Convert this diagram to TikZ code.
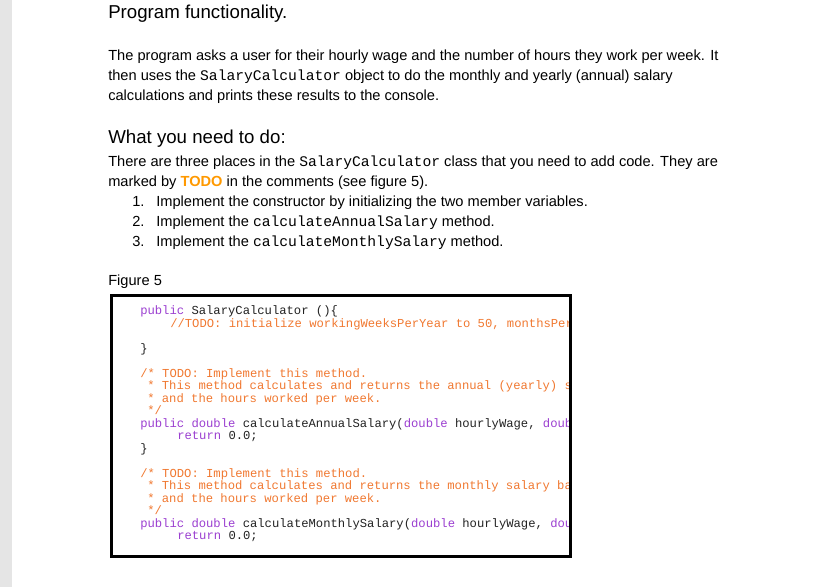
\documentclass[tikz,border=0pt]{standalone}
\usepackage{fontspec}
\setmainfont{Liberation Sans}
\setmonofont{Liberation Mono}
\definecolor{todoorange}{HTML}{FF9900}
\definecolor{commentorange}{HTML}{F07830}
\definecolor{keypurple}{HTML}{9B3FD0}
\definecolor{codegrey}{HTML}{222222}
\newcommand{\kw}[1]{\textcolor{keypurple}{#1}}
\newcommand{\inl}[1]{{\ttfamily\fontsize{11}{13}\selectfont #1}}

\begin{document}
\begin{tikzpicture}[x=.75pt,y=-.75pt,
    heading/.style={anchor=base west,inner sep=0,font=\fontsize{14}{16}\selectfont},
    body/.style={anchor=base west,inner sep=0,font=\fontsize{10.97}{13}\selectfont},
    code/.style={anchor=base west,inner sep=0,codegrey,font=\ttfamily\fontsize{9.15}{11}\selectfont},
    comment/.style={code,commentorange}]

    \useasboundingbox (0,0) rectangle (820,587);
    \fill[black!10] (0,0) rectangle (12,587);

    \node[heading] (title) at (108,18) {Program functionality.};
    \node[body] (p1) at (108,60) {The program asks a user for their hourly wage and the number of hours they work per week. It};
    \node[body] (p2) at (108,80) {then uses the \inl{SalaryCalculator} object to do the monthly and yearly (annual) salary};
    \node[body] (p3) at (108,100) {calculations and prints these results to the console.};

    \node[heading] (todo) at (108,143) {What you need to do:};
    \node[body] (q1) at (108,166) {There are three places in the \inl{SalaryCalculator} class that you need to add code. They are};
    \node[body] (q2) at (108,186) {marked by \textcolor{todoorange}{\textbf{TODO}} in the comments (see figure 5).};
    \node[body] (n1) at (132,206) {1.};
    \node[body] (i1) at (156,206) {Implement the constructor by initializing the two member variables.};
    \node[body] (n2) at (132,226) {2.};
    \node[body] (i2) at (156,226) {Implement the \inl{calculateAnnualSalary} method.};
    \node[body] (n3) at (132,246) {3.};
    \node[body] (i3) at (156,246) {Implement the \inl{calculateMonthlySalary} method.};

    \node[body] (fig) at (108,285) {Figure 5};

    \begin{scope}
      \clip (112,296) rectangle (569,556);
      \node[code] (c1) at (140,314) {\kw{public} SalaryCalculator ()\{};
      \node[comment] (c2) at (170,327) {//TODO: initialize workingWeeksPerYear to 50, monthsPer};
      \node[code] (c3) at (140,352) {\}};
      \node[comment] (c4) at (140,377) {/* TODO: Implement this method.};
      \node[comment] (c5) at (147,389) {* This method calculates and returns the annual (yearly) s};
      \node[comment] (c6) at (147,402) {* and the hours worked per week.};
      \node[comment] (c7) at (147,414) {*/};
      \node[code] (c8) at (140,427) {\kw{public} \kw{double} calculateAnnualSalary(\kw{double} hourlyWage, \kw{doub}};
      \node[code] (c9) at (177,439) {\kw{return} 0.0;};
      \node[code] (c10) at (140,452) {\}};
      \node[comment] (c11) at (140,477) {/* TODO: Implement this method.};
      \node[comment] (c12) at (147,489) {* This method calculates and returns the monthly salary ba};
      \node[comment] (c13) at (147,502) {* and the hours worked per week.};
      \node[comment] (c14) at (147,514) {*/};
      \node[code] (c15) at (140,527) {\kw{public} \kw{double} calculateMonthlySalary(\kw{double} hourlyWage, \kw{dou}};
      \node[code] (c16) at (177,539) {\kw{return} 0.0;};
    \end{scope}

    \draw[line width=2.25pt] (111.5,295.5) rectangle (570.5,556.5);
\end{tikzpicture}
\end{document}
